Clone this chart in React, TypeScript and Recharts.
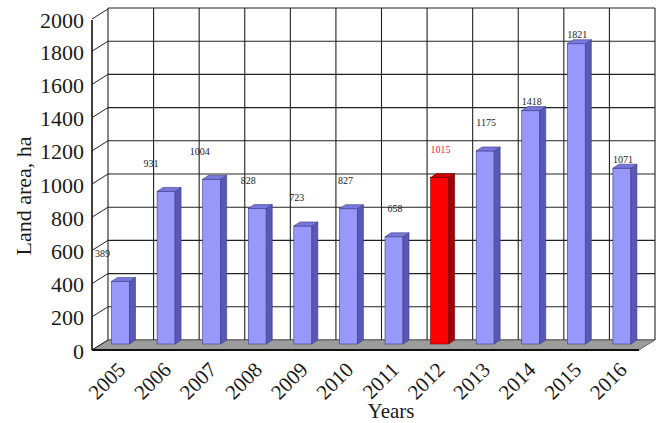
import React from 'react';
import { BarChart, Bar, XAxis, YAxis, CartesianGrid, LabelList, Customized } from 'recharts';

const years = ['2005', '2006', '2007', '2008', '2009', '2010', '2011', '2012', '2013', '2014', '2015', '2016'];
const landArea = [389, 931, 1004, 828, 723, 827, 658, 1015, 1175, 1418, 1821, 1071];
const highlightYear = '2012';
const yTicks = [0, 200, 400, 600, 800, 1000, 1200, 1400, 1600, 1800, 2000];

const data = years.map((y, i) => ({ year: y, area: landArea[i] }));

const FONT = '"Liberation Serif", "Times New Roman", serif';
// back wall of the 3D box
const PLOT_LEFT = 108;
const PLOT_TOP = 8;
const PLOT_RIGHT = 655;
const PLOT_BOTTOM = 340;
// depth of the box (front edge is down-left of the back wall)
const DEPTH_X = 16;
const DEPTH_Y = 10;
const FRONT_X = PLOT_LEFT - DEPTH_X;

const BLUE = { front: '#9898fb', side: '#5858b6', top: '#7878dc', edge: '#3a3a86' };
const RED = { front: '#ff0000', side: '#a80000', top: '#cc0000', edge: '#700000' };

const Bar3D = (props: any) => {
  const { x, y, width, height, payload } = props;
  if (height == null || isNaN(height)) return null;
  const c = payload.year === highlightYear ? RED : BLUE;
  const fx = x - 10.5;
  const d = 6;
  const up = 4;
  const top = y + 6;
  const bottom = y + height + 4;
  return (
    <g>
      <rect x={fx} y={top} width={width} height={bottom - top} fill={c.front} stroke={c.edge} strokeWidth={0.6} />
      <polygon
        points={`${fx + width},${top} ${fx + width + d},${top - up} ${fx + width + d},${bottom - up} ${fx + width},${bottom}`}
        fill={c.side}
        stroke={c.edge}
        strokeWidth={0.6}
      />
      <polygon
        points={`${fx},${top} ${fx + d},${top - up} ${fx + width + d},${top - up} ${fx + width},${top}`}
        fill={c.top}
        stroke={c.edge}
        strokeWidth={0.6}
      />
    </g>
  );
};

const renderLabel = (props: any) => {
  const vb = props.viewBox || {};
  const x = props.x ?? vb.x;
  const y = props.y ?? vb.y;
  const width = props.width ?? vb.width;
  const index = props.index ?? 0;
  const value = props.value;
  const drift = index < 6 ? (index - 6) * 3 : 1;
  const lift = index >= 9 ? 9 : 28;
  const cx = x - 10.5 + width / 2 + drift;
  const cy = y + 6 - lift;
  const isRed = years[index] === highlightYear;
  return (
    <text
      x={cx}
      y={cy}
      textAnchor="middle"
      dominantBaseline="central"
      fontFamily={FONT}
      fontSize={10}
      fill={isRed ? '#ff2040' : '#222'}
    >
      {value}
    </text>
  );
};

const YTick = (props: any) => {
  const { y, payload } = props;
  return (
    <g>
      <line x1={FRONT_X} y1={y + DEPTH_Y} x2={PLOT_LEFT} y2={y} stroke="#222" strokeWidth={1} />
      <text
        x={FRONT_X - 8}
        y={y + DEPTH_Y + 1}
        textAnchor="end"
        dominantBaseline="central"
        fontFamily={FONT}
        fontSize={22}
        fill="#1a1a1a"
      >
        {payload.value}
      </text>
    </g>
  );
};

const XTick = (props: any) => {
  const { x, payload } = props;
  const ax = x - 4;
  const ay = 371;
  return (
    <text
      x={ax}
      y={ay}
      textAnchor="end"
      fontFamily={FONT}
      fontSize={21}
      fill="#1a1a1a"
      transform={`rotate(-45 ${ax} ${ay})`}
    >
      {payload.value}
    </text>
  );
};

const Frame = () => {
  const fl = FRONT_X;
  const fb = PLOT_BOTTOM + DEPTH_Y;
  const fr = PLOT_RIGHT - DEPTH_X;
  return (
    <g>
      <polygon
        points={`${fl},${fb} ${fr},${fb} ${PLOT_RIGHT},${PLOT_BOTTOM} ${PLOT_LEFT},${PLOT_BOTTOM}`}
        fill="#9c9c9c"
        stroke="#555"
        strokeWidth={0.8}
      />
      <line x1={fl} y1={fb} x2={fr} y2={fb} stroke="#111" strokeWidth={2} />
      <line x1={FRONT_X} y1={PLOT_TOP + DEPTH_Y + 2} x2={FRONT_X} y2={fb} stroke="#111" strokeWidth={1.6} />
      <text x={391} y={418} textAnchor="middle" fontFamily={FONT} fontSize={21} fill="#1a1a1a">
        Years
      </text>
      <text
        x={23}
        y={196}
        textAnchor="middle"
        dominantBaseline="central"
        fontFamily={FONT}
        fontSize={22}
        fill="#1a1a1a"
        transform="rotate(-90 23 196)"
      >
        Land area, ha
      </text>
    </g>
  );
};

export default function App() {
  return (
    <div style={{ position: 'fixed', left: 0, top: 0, width: 661, height: 423, background: '#fff' }}>
      <BarChart
        width={661}
        height={423}
        data={data}
        margin={{ top: PLOT_TOP, right: 661 - PLOT_RIGHT, bottom: 23, left: 48 }}
      >
        <CartesianGrid
          stroke="#222"
          strokeWidth={1.1}
          fill="#fff"
          verticalCoordinatesGenerator={({ offset }: any) =>
            Array.from({ length: years.length + 1 }, (_, i) => offset.left + (offset.width * i) / years.length)
          }
        />
        <Customized component={<Frame />} />
        <XAxis dataKey="year" height={60} axisLine={false} tickLine={false} tick={<XTick />} interval={0} />
        <YAxis
          width={60}
          domain={[0, 2000]}
          ticks={yTicks}
          axisLine={false}
          tickLine={false}
          tick={<YTick />}
        />
        <Bar dataKey="area" barSize={18} shape={<Bar3D />} isAnimationActive={false}>
          <LabelList dataKey="area" content={renderLabel} />
        </Bar>
      </BarChart>
    </div>
  );
}
